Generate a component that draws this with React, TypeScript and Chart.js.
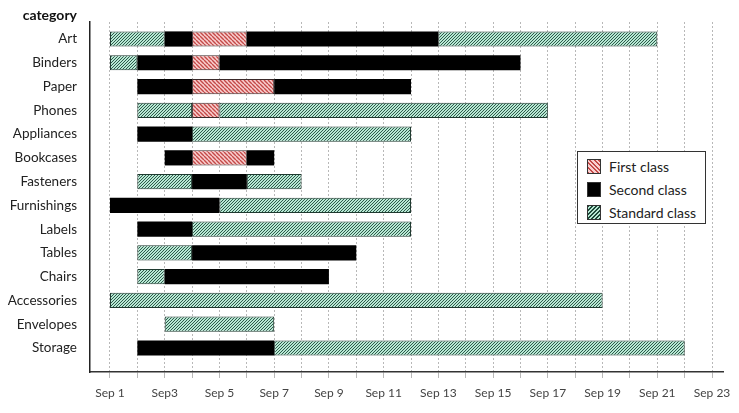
import React, { useEffect, useRef } from 'react';
import { Chart, registerables } from 'chart.js';

Chart.register(...registerables);

type Segment = [string, number, number];

// categories, top to bottom
const categories = [
  'Art', 'Binders', 'Paper', 'Phones', 'Appliances', 'Bookcases', 'Fasteners',
  'Furnishings', 'Labels', 'Tables', 'Chairs', 'Accessories', 'Envelopes', 'Storage',
];

// [category, start day, end day] (days of September)
const firstClass: Segment[] = [
  ['Art', 4, 6], ['Binders', 4, 5], ['Paper', 4, 7], ['Phones', 4, 5], ['Bookcases', 4, 6],
];

const secondClass: Segment[] = [
  ['Art', 3, 4], ['Art', 6, 13], ['Binders', 2, 4], ['Binders', 5, 16],
  ['Paper', 2, 4], ['Paper', 7, 12], ['Appliances', 2, 4], ['Bookcases', 3, 4],
  ['Bookcases', 6, 7], ['Fasteners', 4, 6], ['Furnishings', 1, 5], ['Labels', 2, 4],
  ['Tables', 4, 10], ['Chairs', 3, 9], ['Storage', 2, 7],
];

const standardClass: Segment[] = [
  ['Art', 1, 3], ['Art', 13, 21], ['Binders', 1, 2], ['Phones', 2, 4], ['Phones', 5, 17],
  ['Appliances', 4, 12], ['Fasteners', 2, 4], ['Fasteners', 6, 8], ['Furnishings', 5, 12],
  ['Labels', 4, 12], ['Tables', 2, 4], ['Chairs', 2, 3], ['Accessories', 1, 19],
  ['Envelopes', 3, 7], ['Storage', 7, 22],
];

const dayTicks = [1, 2, 3, 4, 5, 6, 7, 8, 9, 10, 11, 12, 13, 14, 15, 16, 17, 18, 19, 20, 21, 22, 23];
const tickLabels = [
  'Sep 1', '', 'Sep3', '', 'Sep 5', '', 'Sep 7', '', 'Sep 9', '', 'Sep 11', '',
  'Sep 13', '', 'Sep 15', '', 'Sep 17', '', 'Sep 19', '', 'Sep 21', '', 'Sep 23',
];

const FIRST_BG = '#f9cfcf';
const FIRST_LINE = '#c44a48';
const STD_BG = '#b8e8d4';
const STD_LINE = '#1d4a3a';

// small tiled canvas with diagonal lines; dir 1 = "/", -1 = "\"
function makeHatch(bg: string, line: string, size: number, dir: number, lw: number) {
  const c = document.createElement('canvas');
  c.width = size;
  c.height = size;
  const g = c.getContext('2d')!;
  g.fillStyle = bg;
  g.fillRect(0, 0, size, size);
  g.strokeStyle = line;
  g.lineWidth = lw;
  g.beginPath();
  for (const k of [-size, 0, size]) {
    if (dir === 1) {
      g.moveTo(k, size);
      g.lineTo(k + size, 0);
    } else {
      g.moveTo(k, 0);
      g.lineTo(k + size, size);
    }
  }
  g.stroke();
  return g.createPattern(c, 'repeat')!;
}

const toPoints = (segs: Segment[]) =>
  segs.map(([cat, s, e]) => ({ y: categories.indexOf(cat), x: [s, e] }));

const legendItems = [
  { label: 'First class', bg: `repeating-linear-gradient(45deg, ${FIRST_LINE} 0 1.4px, ${FIRST_BG} 1.4px 3.2px)` },
  { label: 'Second class', bg: '#000' },
  { label: 'Standard class', bg: `repeating-linear-gradient(-45deg, ${STD_LINE} 0 1px, ${STD_BG} 1px 2.8px)` },
];

const App: React.FC = () => {
  const canvasRef = useRef<HTMLCanvasElement | null>(null);

  useEffect(() => {
    if (!canvasRef.current) return;
    const firstPattern = makeHatch(FIRST_BG, FIRST_LINE, 4, -1, 1.4);
    const stdPattern = makeHatch(STD_BG, STD_LINE, 3, 1, 0.9);

    const barOpts = {
      borderSkipped: false as const,
      grouped: false,
      barPercentage: 0.64,
      categoryPercentage: 1,
    };

    const chart = new Chart(canvasRef.current, {
      type: 'bar',
      data: {
        datasets: [
          {
            label: 'First class',
            data: toPoints(firstClass) as any,
            backgroundColor: firstPattern,
            borderColor: '#3a2a2a',
            borderWidth: 1,
            ...barOpts,
          },
          {
            label: 'Second class',
            data: toPoints(secondClass) as any,
            backgroundColor: '#000',
            borderColor: '#000',
            borderWidth: 0,
            ...barOpts,
          },
          {
            label: 'Standard class',
            data: toPoints(standardClass) as any,
            backgroundColor: stdPattern,
            borderColor: '#1f3a30',
            borderWidth: 1,
            ...barOpts,
          },
        ],
      },
      options: {
        indexAxis: 'y',
        responsive: false,
        animation: false,
        layout: { padding: { top: 22, right: 16, left: 0, bottom: 0 } },
        plugins: {
          legend: { display: false },
          tooltip: { enabled: false },
        },
        scales: {
          x: {
            type: 'linear',
            position: 'bottom',
            min: 0.27,
            max: 23.4,
            afterBuildTicks: (scale: any) => {
              scale.ticks = dayTicks.map((v) => ({ value: v }));
            },
            afterFit: (scale: any) => {
              scale.height = 41;
            },
            grid: {
              color: '#b8b8b8',
              lineWidth: 1,
              drawTicks: true,
              tickLength: 6,
            },
            border: { display: true, color: '#333', width: 1.5, dash: [2, 2] },
            ticks: {
              color: '#444',
              font: { family: 'Lato', size: 12 },
              padding: 8,
              autoSkip: false,
              maxRotation: 0,
              callback: (v: any) => tickLabels[dayTicks.indexOf(Number(v))] ?? '',
            },
          },
          y: {
            type: 'linear',
            reverse: true,
            offset: false,
            min: -0.715,
            max: 14.01,
            afterBuildTicks: (scale: any) => {
              scale.ticks = categories.map((_, i) => ({ value: i }));
            },
            afterFit: (scale: any) => {
              scale.width = 90;
            },
            grid: { display: false, drawTicks: false, offset: false },
            border: { display: true, color: '#222', width: 1.5 },
            ticks: {
              color: '#222',
              font: { family: 'Lato', size: 13.5 },
              padding: 13,
              autoSkip: false,
              callback: (v: any) => categories[Number(v)] ?? '',
            },
          },
        },
      },
    });

    return () => {
      chart.destroy();
    };
  }, []);

  return (
    <div style={{ position: 'absolute', left: 0, top: 0, width: 739, height: 413, background: '#fff', fontFamily: 'Lato, sans-serif' }}>
      <canvas ref={canvasRef} width={739} height={413} style={{ display: 'block' }} />
      <div
        style={{
          position: 'absolute', left: 0, top: 7, width: 77, textAlign: 'right',
          fontWeight: 700, fontSize: 14, lineHeight: '16px', color: '#111',
        }}
      >
        category
      </div>
      <div
        style={{
          position: 'absolute', left: 577, top: 151, width: 127, height: 71,
          border: '1.5px solid #333', background: '#fff', boxSizing: 'content-box',
        }}
      >
        {legendItems.map((it, i) => (
          <div
            key={it.label}
            style={{ position: 'absolute', left: 9, top: 6 + i * 23, display: 'flex', alignItems: 'center', height: 17 }}
          >
            <span
              style={{
                display: 'inline-block', width: 14, height: 15, background: it.bg,
                border: '1px solid #333', boxSizing: 'border-box', marginRight: 8,
              }}
            />
            <span style={{ fontSize: 14, color: '#222', whiteSpace: 'nowrap' }}>{it.label}</span>
          </div>
        ))}
      </div>
    </div>
  );
};

export default App;
